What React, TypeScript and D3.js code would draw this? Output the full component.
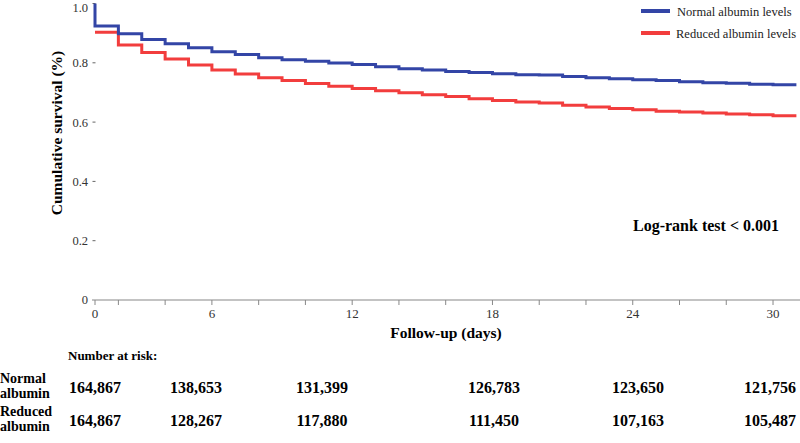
import React from "react";
import * as d3 from "d3";

// Step times (day index of each interval start) and survival estimates
const stepDays: number[] = d3.range(1, 31);
const normalSurvival: number[] = [
  0.924, 0.898, 0.879, 0.864, 0.851, 0.837, 0.828, 0.817, 0.81, 0.805,
  0.799, 0.794, 0.787, 0.78, 0.776, 0.771, 0.767, 0.763, 0.76, 0.759,
  0.754, 0.75, 0.746, 0.743, 0.74, 0.736, 0.733, 0.731, 0.728, 0.726,
];
const reducedSurvival: number[] = [
  0.903, 0.86, 0.835, 0.813, 0.793, 0.776, 0.762, 0.75, 0.74, 0.73,
  0.721, 0.713, 0.706, 0.699, 0.692, 0.686, 0.679, 0.673, 0.668, 0.664,
  0.657, 0.651, 0.646, 0.642, 0.637, 0.634, 0.631, 0.627, 0.625, 0.621,
];
const seriesNames: string[] = ["Normal albumin levels", "Reduced albumin levels"];
const xTickLabels: string[] = ["0", "6", "12", "18", "24", "30"];
const xTickDays: number[] = [1, 6, 12, 18, 24, 30];
const yTicks: number[] = [0, 0.2, 0.4, 0.6, 0.8, 1.0];
const riskNormal: string[] = ["164,867", "138,653", "131,399", "126,783", "123,650", "121,756"];
const riskReduced: string[] = ["164,867", "128,267", "117,880", "111,450", "107,163", "105,487"];

// layout
const W = 800;
const H = 443;
const COLORS = ["#3345a6", "#f23d3d"];
const riskColumnX = [95, 196, 322, 494, 638, 770];
const FONT = "'Liberation Serif', 'Times New Roman', serif";

export default function App() {
  const x = d3.scaleLinear().domain([1, 31]).range([95, 796.4]);
  const y = d3.scaleLinear().domain([0, 1]).range([300, 3.5]);

  const line = d3
    .line<[number, number]>()
    .x((d) => x(d[0]))
    .y((d) => y(d[1]))
    .curve(d3.curveStepAfter);

  const makePts = (vals: number[], start: boolean): [number, number][] => {
    const pts: [number, number][] = [];
    if (start) pts.push([1, 1.0]);
    stepDays.forEach((d, i) => pts.push([d, vals[i]]));
    pts.push([31, vals[vals.length - 1]]);
    return pts;
  };

  const minorTicks = [1, ...d3.range(2, 31, 2)];

  return (
    <svg
      width={W}
      height={H}
      style={{ position: "absolute", left: 0, top: 0, background: "#fff" }}
      fontFamily={FONT}
    >
      <rect width={W} height={H} fill="#fff" />
      {/* y ticks */}
      {yTicks.map((t) => (
        <g key={t}>
          <text
            x={88}
            y={Math.max(y(t) + 4.4, 11.5)}
            textAnchor="end"
            fontSize={12.5}
            fill="#333"
          >
            {t === 0 ? "0" : t.toFixed(1)}
          </text>
          {t !== 0 && (
            <line x1={92.5} x2={95.5} y1={y(t)} y2={y(t)} stroke="#666" strokeWidth={1} />
          )}
        </g>
      ))}
      {/* x axis */}
      <line x1={92} x2={800} y1={300} y2={300} stroke="#888" strokeWidth={1.2} />
      {minorTicks.map((d) => (
        <line key={d} x1={x(d)} x2={x(d)} y1={300} y2={305} stroke="#888" strokeWidth={1} />
      ))}
      {xTickDays.map((d, i) => (
        <text key={d} x={x(d)} y={318} textAnchor="middle" fontSize={13} fill="#333">
          {xTickLabels[i]}
        </text>
      ))}
      <text x={446} y={338} textAnchor="middle" fontSize={15.5} fontWeight="bold">
        Follow-up (days)
      </text>
      <text
        transform="translate(62,133) rotate(-90)"
        textAnchor="middle"
        fontSize={15.5}
        fontWeight="bold"
      >
        Cumulative survival (%)
      </text>
      {/* curves */}
      <path d={line(makePts(reducedSurvival, false)) || ""} fill="none" stroke={COLORS[1]} strokeWidth={3} />
      <path d={line(makePts(normalSurvival, true)) || ""} fill="none" stroke={COLORS[0]} strokeWidth={3} />
      {/* legend */}
      {seriesNames.map((n, i) => (
        <g key={n}>
          <line x1={641} x2={670} y1={11 + i * 22} y2={11 + i * 22} stroke={COLORS[i]} strokeWidth={4} />
          <text x={677 - i * 1} y={15.5 + i * 22} fontSize={12.5} fill="#222">
            {n}
          </text>
        </g>
      ))}
      <text x={633} y={231} fontSize={16} fontWeight="bold">
        Log-rank test &lt; 0.001
      </text>
      {/* number at risk */}
      <text x={68} y={360} fontSize={13} fontWeight="bold">
        Number at risk:
      </text>
      <text x={0} y={383} fontSize={14} fontWeight="bold">Normal</text>
      <text x={0} y={398} fontSize={14} fontWeight="bold">albumin</text>
      <text x={0} y={416} fontSize={14} fontWeight="bold">Reduced</text>
      <text x={0} y={431} fontSize={14} fontWeight="bold">albumin</text>
      {riskNormal.map((v, i) => (
        <text key={"n" + i} x={riskColumnX[i]} y={393} textAnchor="middle" fontSize={16} fontWeight="bold">
          {v}
        </text>
      ))}
      {riskReduced.map((v, i) => (
        <text key={"r" + i} x={riskColumnX[i]} y={426} textAnchor="middle" fontSize={16} fontWeight="bold">
          {v}
        </text>
      ))}
    </svg>
  );
}
